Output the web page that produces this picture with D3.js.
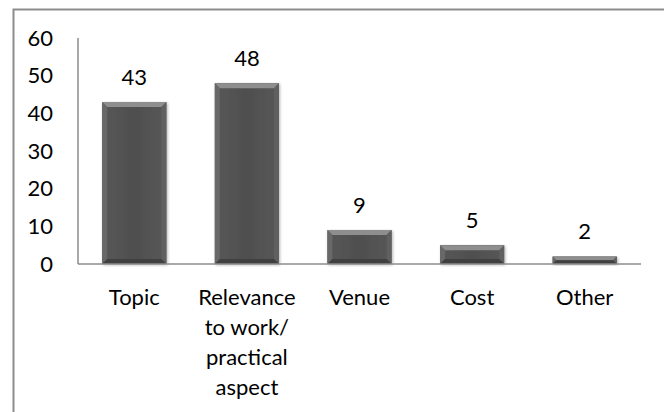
<!DOCTYPE html>
<head>
    <meta charset="utf-8">
</head>
<style type="text/css">
    body { margin: 0; background: #fff; }
    svg text { font-family: "Lato", "Open Sans", sans-serif; font-size: 22px; fill: #000; }
    .axis path.domain { display: none; }
    .axis line { display: none; }
</style>
<body>
<div class="g-chart-container"></div>
</body>
<script src="https://cdn.jsdelivr.net/npm/d3@7"></script>
<script>

var categories = ["Topic", "Relevance to work/ practical aspect", "Venue", "Cost", "Other"];
var labelLines = [["Topic"], ["Relevance", "to work/", "practical", "aspect"], ["Venue"], ["Cost"], ["Other"]];
var values = [43, 48, 9, 5, 2];
var yTicks = [0, 10, 20, 30, 40, 50, 60];

var W = 664, H = 412;
var margin = {top: 38, right: 23, bottom: 148, left: 78};
var w = W - margin.left - margin.right,
    h = H - margin.top - margin.bottom;

var svg = d3.select(".g-chart-container").append("svg")
    .attr("width", W)
    .attr("height", H)
    .style("display", "block");

var defs = svg.append("defs");
var grad = defs.append("linearGradient").attr("id", "barGrad")
    .attr("x1", 0).attr("x2", 1).attr("y1", 0).attr("y2", 0);
grad.append("stop").attr("offset", "0%").attr("stop-color", "#575757");
grad.append("stop").attr("offset", "50%").attr("stop-color", "#4f4f4f");
grad.append("stop").attr("offset", "100%").attr("stop-color", "#575757");

var shadow = defs.append("filter").attr("id", "shadow")
    .attr("x", "-10%").attr("y", "-10%").attr("width", "130%").attr("height", "130%");
shadow.append("feGaussianBlur").attr("in", "SourceAlpha").attr("stdDeviation", 1.5);
shadow.append("feOffset").attr("dx", 1).attr("dy", 1).attr("result", "ob");
shadow.append("feComponentTransfer").append("feFuncA").attr("type", "linear").attr("slope", 0.3);
var merge = shadow.append("feMerge");
merge.append("feMergeNode");
merge.append("feMergeNode").attr("in", "SourceGraphic");

// outer chart area border (top and left only visible)
svg.append("path")
    .attr("d", "M13.5,412 L13.5,9.5 L664,9.5")
    .attr("fill", "none")
    .attr("stroke", "#8c8c8c")
    .attr("stroke-width", 2);

var g = svg.append("g")
    .attr("transform", "translate(" + margin.left + "," + margin.top + ")");

var xscale = d3.scaleBand()
    .domain(categories)
    .range([0, w])
    .paddingInner(0.43)
    .paddingOuter(0.215);

var yscale = d3.scaleLinear()
    .domain([0, 60])
    .range([h, 0]);

var yAxis = d3.axisLeft(yscale).tickValues(yTicks).tickSize(0).tickPadding(25);
g.append("g").attr("class", "axis").call(yAxis)
    .selectAll("text").style("font-size", "22px").style("font-family", "Lato, sans-serif").attr("fill", "#000");

var bars = g.selectAll(".bar").data(values).enter().append("g")
    .attr("class", "bar")
    .attr("filter", "url(#shadow)");

bars.append("rect")
    .attr("x", function(d, i) { return xscale(categories[i]); })
    .attr("y", function(d) { return yscale(d); })
    .attr("width", xscale.bandwidth())
    .attr("height", function(d) { return h - yscale(d); })
    .attr("fill", "url(#barGrad)");

// bevel: top, left, right, bottom edges
var bev = 5;
bars.append("path")
    .attr("fill", "#8e8e8e")
    .attr("d", function(d, i) {
        var x0 = xscale(categories[i]), x1 = x0 + xscale.bandwidth(),
            y0 = yscale(d), y1 = yscale(0), b = Math.min(bev, (y1 - y0) / 2);
        return "M" + x0 + "," + y0 + "L" + x1 + "," + y0 + "L" + (x1 - b) + "," + (y0 + b) + "L" + (x0 + b) + "," + (y0 + b) + "Z";
    });
bars.append("path")
    .attr("fill", "#686868")
    .attr("d", function(d, i) {
        var x0 = xscale(categories[i]), y0 = yscale(d), y1 = yscale(0), b = Math.min(bev, (y1 - y0) / 2);
        return "M" + x0 + "," + y0 + "L" + (x0 + b) + "," + (y0 + b) + "L" + (x0 + b) + "," + (y1 - b) + "L" + x0 + "," + y1 + "Z";
    });
bars.append("path")
    .attr("fill", "#606060")
    .attr("d", function(d, i) {
        var x1 = xscale(categories[i]) + xscale.bandwidth(), y0 = yscale(d), y1 = yscale(0), b = Math.min(bev, (y1 - y0) / 2);
        return "M" + x1 + "," + y0 + "L" + (x1 - b) + "," + (y0 + b) + "L" + (x1 - b) + "," + (y1 - b) + "L" + x1 + "," + y1 + "Z";
    });
bars.append("path")
    .attr("fill", "#404040")
    .attr("d", function(d, i) {
        var x0 = xscale(categories[i]), x1 = x0 + xscale.bandwidth(), y0 = yscale(d), y1 = yscale(0), b = Math.min(bev, (y1 - y0) / 2);
        return "M" + x0 + "," + y1 + "L" + (x0 + b) + "," + (y1 - b) + "L" + (x1 - b) + "," + (y1 - b) + "L" + x1 + "," + y1 + "Z";
    });

// value labels
g.selectAll(".val").data(values).enter().append("text")
    .attr("class", "val")
    .attr("x", function(d, i) { return xscale(categories[i]) + xscale.bandwidth() / 2; })
    .attr("y", function(d) { return yscale(d) - 17; })
    .attr("text-anchor", "middle")
    .text(function(d) { return d; });

// axis lines
g.append("line")
    .attr("x1", 0).attr("x2", 0)
    .attr("y1", 0).attr("y2", h)
    .attr("stroke", "#8c8c8c").attr("stroke-width", 1.5);
g.append("line")
    .attr("x1", 0).attr("x2", w)
    .attr("y1", h).attr("y2", h)
    .attr("stroke", "#8c8c8c").attr("stroke-width", 1.5);

// category labels
var cat = g.selectAll(".cat").data(categories).enter().append("text")
    .attr("class", "cat")
    .attr("text-anchor", "middle")
    .attr("x", function(d) { return xscale(d) + xscale.bandwidth() / 2; })
    .attr("y", h + 41);

cat.selectAll("tspan").data(function(d, i) { return labelLines[i]; }).enter().append("tspan")
    .attr("x", function() { var p = d3.select(this.parentNode).datum(); return xscale(p) + xscale.bandwidth() / 2; })
    .attr("dy", function(d, j) { return j === 0 ? 0 : 30; })
    .text(function(d) { return d; });

</script>
